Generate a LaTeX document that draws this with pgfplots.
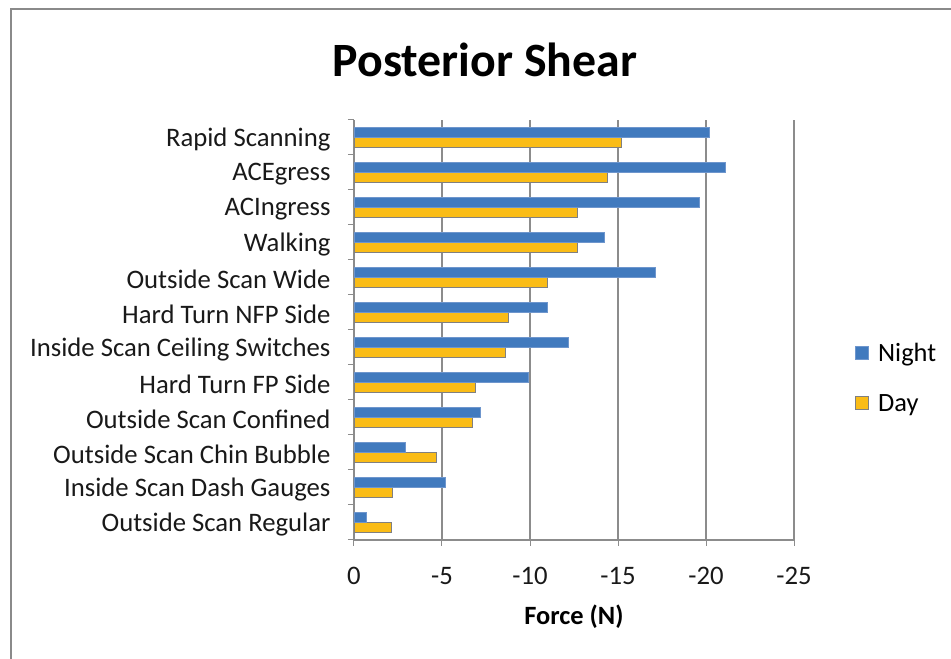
\documentclass[border=0pt]{standalone}
\usepackage{fontspec}
\setmainfont{Carlito}
\usepackage{pgfplots}
\pgfplotsset{compat=1.18}
\definecolor{nightblue}{RGB}{65,122,190}
\definecolor{nightedge}{RGB}{110,150,205}
\definecolor{dayyellow}{RGB}{250,188,22}
\definecolor{dayedge}{RGB}{128,128,128}
\definecolor{gridgray}{RGB}{140,140,140}
\definecolor{framegray}{RGB}{138,138,138}
\begin{document}
\begin{tikzpicture}[x=1bp,y=1bp]
\useasboundingbox (0,0) rectangle (951,659);
\draw[framegray, line width=2.5bp] (11,0) -- (11,650) -- (951,650);
\node[anchor=base, font=\bfseries\fontsize{48}{57}\selectfont] at (485,582) {Posterior Shear};
\begin{axis}[
  at={(354bp,119bp)}, anchor=south west,
  scale only axis, width=440bp, height=420bp,
  xbar=0pt, bar width=10bp,
  x dir=reverse, xmin=-25, xmax=0,
  ymin=-0.5, ymax=11.5,
  xtick={0,-5,-10,-15,-20,-25},
  xticklabels={0,-5,-10,-15,-20,-25},
  ytick={0,...,11},
  yticklabels={Outside Scan Regular, Inside Scan Dash Gauges, Outside Scan Chin Bubble, Outside Scan Confined, Hard Turn FP Side, Inside Scan Ceiling Switches, Hard Turn NFP Side, Outside Scan Wide, Walking, ACIngress, ACEgress, Rapid Scanning},
  minor ytick={-0.5,0.5,...,11.5},
  axis x line*=bottom, axis y line*=left,
  axis line style={gridgray, line width=1.2bp, -},
  tick align=outside,
  major tick length=6bp, minor tick length=6bp,
  major y tick style={draw=none},
  minor y tick style={gridgray, line width=1bp},
  major x tick style={gridgray, line width=1bp},
  xmajorgrids, grid style={gridgray, line width=1.2bp},
  tick label style={font=\fontsize{26.8}{32}\selectfont, text=black!90},
  yticklabel style={xshift=-14bp, yshift=-2bp},
  xticklabel style={yshift=-18bp},
  xlabel={\bfseries Force (N)},
  xlabel style={font=\fontsize{26.5}{32}\selectfont, yshift=-13bp},
  reverse legend,
  legend cell align=left,
  legend style={at={(1.139,0.386)}, anchor=west, draw=none, fill=none,
    font=\fontsize{26.5}{32}\selectfont, row sep=31bp, column sep=9bp, inner sep=0pt,
    nodes={inner sep=0pt}},
  legend image code/.code={\draw[#1] (0bp,-6.5bp) rectangle (13bp,6.5bp);},
]
\addplot[fill=dayyellow, draw=dayedge, line width=0.8bp] coordinates {
(-2.1,0) (-2.2,1) (-4.7,2) (-6.7,3) (-6.9,4) (-8.6,5) (-8.8,6) (-11.0,7) (-12.7,8) (-12.7,9) (-14.4,10) (-15.2,11)};
\addlegendentry{Day}
\addplot[fill=nightblue, draw=nightedge, line width=0.8bp] coordinates {
(-0.7,0) (-5.2,1) (-2.9,2) (-7.2,3) (-9.9,4) (-12.2,5) (-11.0,6) (-17.1,7) (-14.2,8) (-19.6,9) (-21.1,10) (-20.2,11)};
\addlegendentry{Night}
\end{axis}
\end{tikzpicture}
\end{document}
